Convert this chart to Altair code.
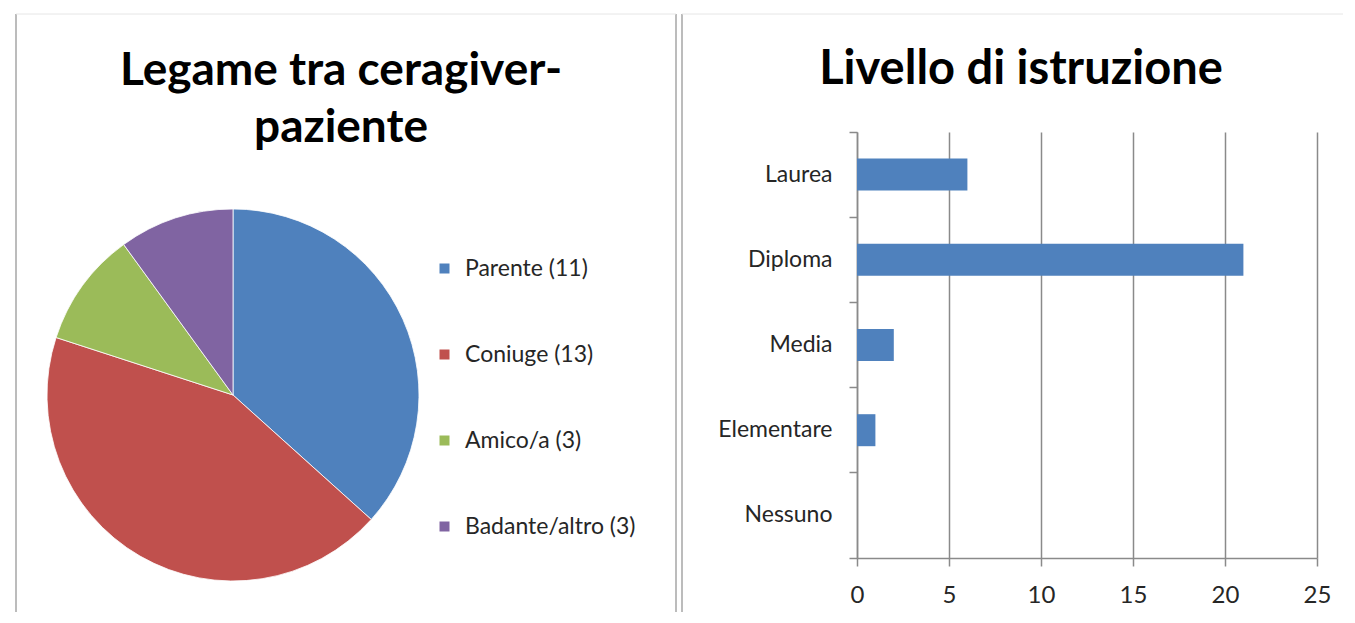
import altair as alt
import pandas as pd

# ---------------- data ----------------
pie_labels = ["Parente (11)", "Coniuge (13)", "Amico/a (3)", "Badante/altro (3)"]
pie_values = [11, 13, 3, 3]
pie_colors = ["#4F81BD", "#C0504D", "#9BBB59", "#8064A2"]

edu_levels = ["Laurea", "Diploma", "Media", "Elementare", "Nessuno"]
edu_counts = [6, 21, 2, 1, 0]
x_ticks = [0, 5, 10, 15, 20, 25]

title_left = ["Legame tra ceragiver-", "paziente"]
title_right = "Livello di istruzione"

# ---------------- style ----------------
FONT = "Lato"
BORDER = "#bcbcbc"
AXIS = "#8a8a8a"
TXT = "#262626"

pie_df = pd.DataFrame({"label": pie_labels, "value": pie_values,
                       "idx": list(range(len(pie_labels)))})
bar_df = pd.DataFrame({"level": edu_levels, "count": edu_counts})
one = alt.Data(values=[{"k": 0}])

# both panels share the same view top (page y 131); panel frame starts 118px above
TOP = -118
BOTTOM = 480

# ---------------- left panel (pie) ----------------
LW, LH = 660, 426

l_left = alt.Chart(one).mark_rule(color=BORDER, strokeWidth=2).encode(
    x=alt.value(0), y=alt.value(TOP), y2=alt.value(BOTTOM))
l_right = alt.Chart(one).mark_rule(color=BORDER, strokeWidth=2).encode(
    x=alt.value(LW), y=alt.value(TOP), y2=alt.value(BOTTOM))
l_top = alt.Chart(one).mark_rule(color="#e6e6e6", strokeWidth=1).encode(
    y=alt.value(TOP), x=alt.value(0), x2=alt.value(LW))

pie = alt.Chart(pie_df).mark_arc(radius=186, stroke="white", strokeWidth=0.8).encode(
    theta=alt.Theta("value:Q", stack=True),
    color=alt.Color(
        "label:N", sort=pie_labels,
        scale=alt.Scale(domain=pie_labels, range=pie_colors),
        legend=alt.Legend(orient="none", legendX=417, legendY=125, title=None,
                          symbolType="square", symbolSize=100, symbolStrokeWidth=0,
                          labelFont=FONT, labelFontSize=23, labelColor=TXT,
                          labelLimit=400, labelOffset=9, rowPadding=62,
                          padding=0)),
    order=alt.Order("idx:Q"),
    x=alt.value(217), y=alt.value(263),
)

t_left = alt.Chart(one).mark_text(
    text=title_left, font=FONT, fontSize=46, fontWeight="bold", color="black",
    align="center", baseline="alphabetic", lineHeight=57,
).encode(x=alt.value(325), y=alt.value(-47))

left = alt.layer(l_left, l_right, l_top, pie, t_left).properties(width=LW, height=LH)

# ---------------- right panel (bars) ----------------
RW, RH = 460, 426

r_left = alt.Chart(one).mark_rule(color=BORDER, strokeWidth=2).encode(
    x=alt.value(-175), y=alt.value(TOP), y2=alt.value(BOTTOM))
r_top = alt.Chart(one).mark_rule(color="#e6e6e6", strokeWidth=1).encode(
    y=alt.value(TOP), x=alt.value(-175), x2=alt.value(486))

bars = alt.Chart(bar_df).mark_bar(size=32, color="#4F81BD").encode(
    x=alt.X("count:Q",
            scale=alt.Scale(domain=[0, 25], nice=False, zero=True),
            axis=alt.Axis(values=x_ticks, title=None, grid=True, gridColor=AXIS,
                          gridWidth=1.5, domainColor=AXIS, domainWidth=1.5,
                          tickColor=AXIS, tickWidth=1.5, tickSize=8,
                          labelFont=FONT, labelFontSize=24, labelColor=TXT,
                          labelPadding=17, labelFlush=False)),
    y=alt.Y("level:N", sort=edu_levels,
            scale=alt.Scale(paddingInner=0, paddingOuter=0),
            axis=alt.Axis(title=None, bandPosition=1, tickExtra=True, grid=False,
                          domainColor=AXIS, domainWidth=1.5, tickColor=AXIS,
                          tickWidth=1.5, tickSize=8, labelFont=FONT,
                          labelFontSize=23, labelColor=TXT, labelPadding=17)),
)

t_right = alt.Chart(one).mark_text(
    text=title_right, font=FONT, fontSize=47, fontWeight="bold", color="black",
    align="center", baseline="alphabetic",
).encode(x=alt.value(164), y=alt.value(-48))

right = alt.layer(r_left, r_top, bars, t_right).properties(width=RW, height=RH)

chart = alt.hconcat(left, right, spacing=4).properties(
    padding={"left": 7, "top": 5, "right": 0, "bottom": 0},
    background="white",
).configure_view(stroke=None)

chart.save("out.html", embed_options={"renderer": "svg", "actions": False})
